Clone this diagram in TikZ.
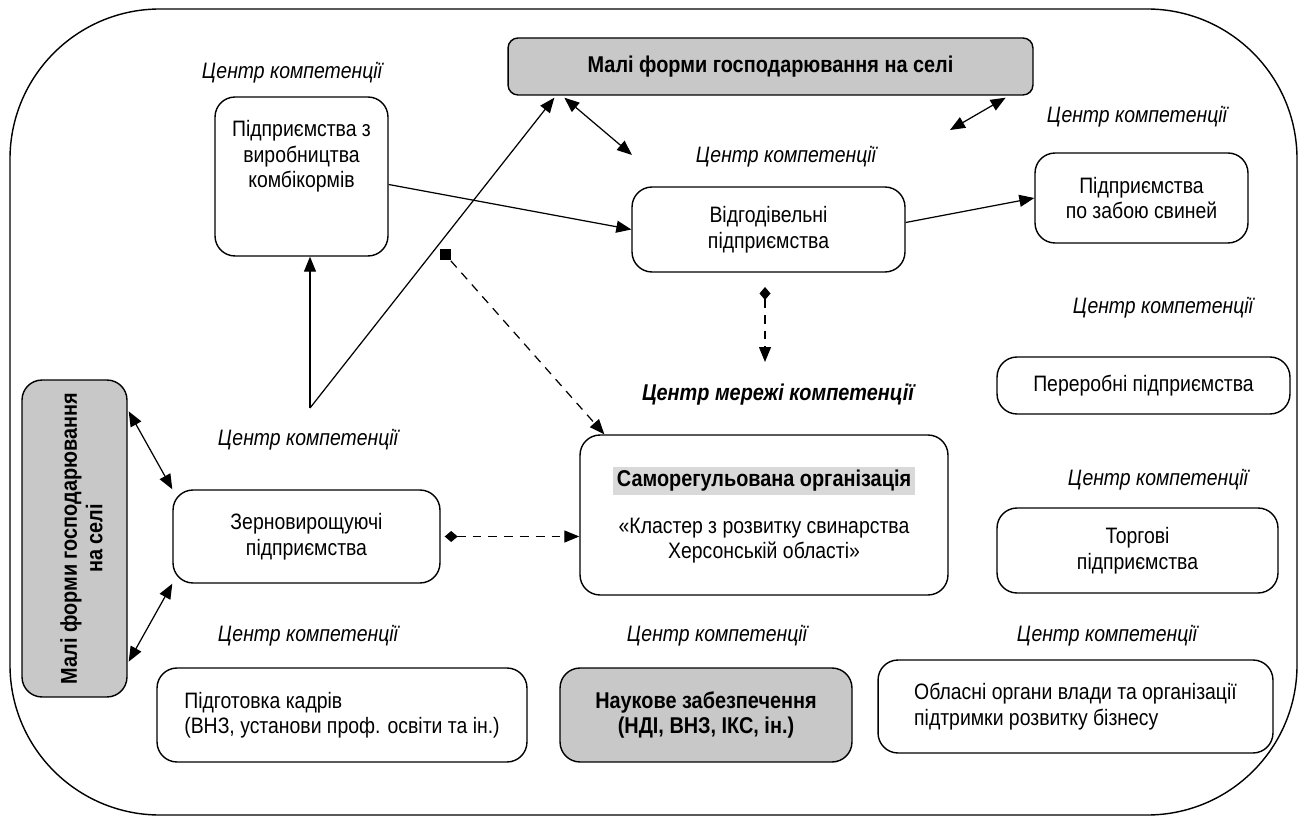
\documentclass[tikz,border=0pt]{standalone}
\usepackage{fontspec}
\setmainfont[FakeStretch=0.87]{Liberation Sans}
\usetikzlibrary{arrows.meta,calc}
\definecolor{boxgray}{RGB}{200,200,200}
\definecolor{hlgray}{RGB}{217,217,217}
\begin{document}
\begin{tikzpicture}[x=0.02cm,y=-0.02cm,
  every node/.style={font=\fontsize{12.7}{14.5}\selectfont},
  box/.style={draw,line width=0.8pt,rounded corners=0.4cm,align=center},
  gbox/.style={box,fill=boxgray,font=\fontsize{13}{14.5}\selectfont\bfseries},
  ck/.style={font=\fontsize{12.7}{14.5}\selectfont\itshape},
  tip/.tip={Triangle[length=0.3cm,width=0.24cm]},
  arr/.style={line width=0.7pt,-tip},
  darr/.style={line width=0.7pt,tip-tip},
  dasharr/.style={line width=0.7pt,dashed,dash pattern=on 5pt off 4pt}]
\useasboundingbox (0,0) rectangle (1307,820);
% outer frame
\draw[line width=0.8pt,rounded corners=3cm] (10,9) rectangle (1297,815);
% boxes
\node[gbox,rounded corners=0.2cm,minimum width=10.5cm,minimum height=1.14cm] (mfs) at (770.5,66.5) {Малі форми господарювання на селі};
\node[box,minimum width=3.46cm,minimum height=3.18cm,
  label={[align=center,yshift=0.4cm]center:Підприємства з\\виробництва\\комбікормів}] (kombi) at (301.5,176.5) {};
\node[box,minimum width=5.46cm,minimum height=1.7cm] (vidg) at (768.5,229.5) {Відгодівельні\\підприємства};
\node[box,minimum width=4.26cm,minimum height=1.8cm] (zabiy) at (1141.5,198) {Підприємства\\по забою свиней};
\node[gbox,minimum width=2.1cm,minimum height=6.34cm,
  label={[xshift=0.14cm,rotate=90,align=center,font=\fontsize{13}{14.5}\selectfont\bfseries]center:Малі форми господарювання\\на селі}] (mfsl) at (74.5,538.5) {};
\node[box,minimum width=5.34cm,minimum height=1.86cm] (zerno) at (306.5,536.5) {Зерновирощуючі\\підприємства};
\node[box,minimum width=7.36cm,minimum height=3.2cm] (sro) at (764,515)
  {\setlength{\fboxsep}{2pt}\colorbox{hlgray}{\fontsize{13}{14.5}\selectfont\bfseries Саморегульована організація}\\[0.42cm]«Кластер з розвитку свинарства\\Херсонській області»};
\node[box,minimum width=5.86cm,minimum height=1.14cm] (perer) at (1143.5,385.5) {Переробні підприємства};
\node[box,minimum width=5.62cm,minimum height=1.7cm] (torg) at (1137.5,550.5) {Торгові\\підприємства};
\node[box,align=left,minimum width=7.4cm,minimum height=1.88cm] (kadry) at (342,715)
  {Підготовка кадрів\\(ВНЗ, установи проф. освіти та ін.)};
\node[gbox,minimum width=5.84cm,minimum height=1.88cm] (nauk) at (706,715) {Наукове забезпечення\\(НДІ, ВНЗ, ІКС, ін.)};
\node[box,align=left,minimum width=7.9cm,minimum height=1.86cm] (oblast) at (1075.5,706.5)
  {Обласні органи влади та організації\\підтримки розвитку бізнесу};
% labels
\node[ck] (ck1) at (292,73) {Центр компетенції};
\node[ck] (ck2) at (786,157) {Центр компетенції};
\node[ck] (ck3) at (1137,117) {Центр компетенції};
\node[ck] (ck4) at (1163,308) {Центр компетенції};
\node[ck] (ck5) at (308,440) {Центр компетенції};
\node[ck] (ck6) at (1158,480) {Центр компетенції};
\node[ck] (ck7) at (308,636) {Центр компетенції};
\node[ck] (ck8) at (717,636) {Центр компетенції};
\node[ck] (ck9) at (1107,636) {Центр компетенції};
\node[ck,font=\fontsize{13}{14.5}\selectfont\bfseries\itshape] (cmk) at (778,395) {Центр мережі компетенції};
% connectors
\coordinate (apex) at (310,408);
\coordinate (c1) at (632,155);
\coordinate (c2) at (950,130);
\coordinate (d1) at (765,287);
\coordinate (d2) at (765,362);
\node[fill,inner sep=0pt,minimum size=0.22cm] (sq) at (445,255) {};
\draw[arr] (apex) -- (apex |- kombi.south);
\draw[arr] (apex) -- ($(mfs.south west)+(47,2)$);
\draw[darr] ($(mfs.south west)+(57,2)$) -- (c1);
\draw[darr] ($(mfs.south east)+(-28,2)$) -- (c2);
\draw[arr] ($(kombi.east)+(0,8)$) -- (vidg.west);
\draw[arr] ($(vidg.east)+(0,-7)$) -- (zabiy.west);
\draw[dasharr,{Diamond[length=0.26cm,width=0.22cm]}-tip] (d1) -- (d2);
\draw[dasharr,-tip] (sq.south east) -- ($(sro.north west)+(25,0)$);
\draw[dasharr,{Diamond[length=0.26cm,width=0.22cm]}-tip] ($(zerno.east)+(4,0)$) -- (sro.west |- zerno.east);
\draw[darr] ($(mfsl.north east)+(1,32)$) -- (zerno.north west);
\draw[darr] ($(mfsl.south east)+(1,-36)$) -- (zerno.south west);
\end{tikzpicture}
\end{document}
